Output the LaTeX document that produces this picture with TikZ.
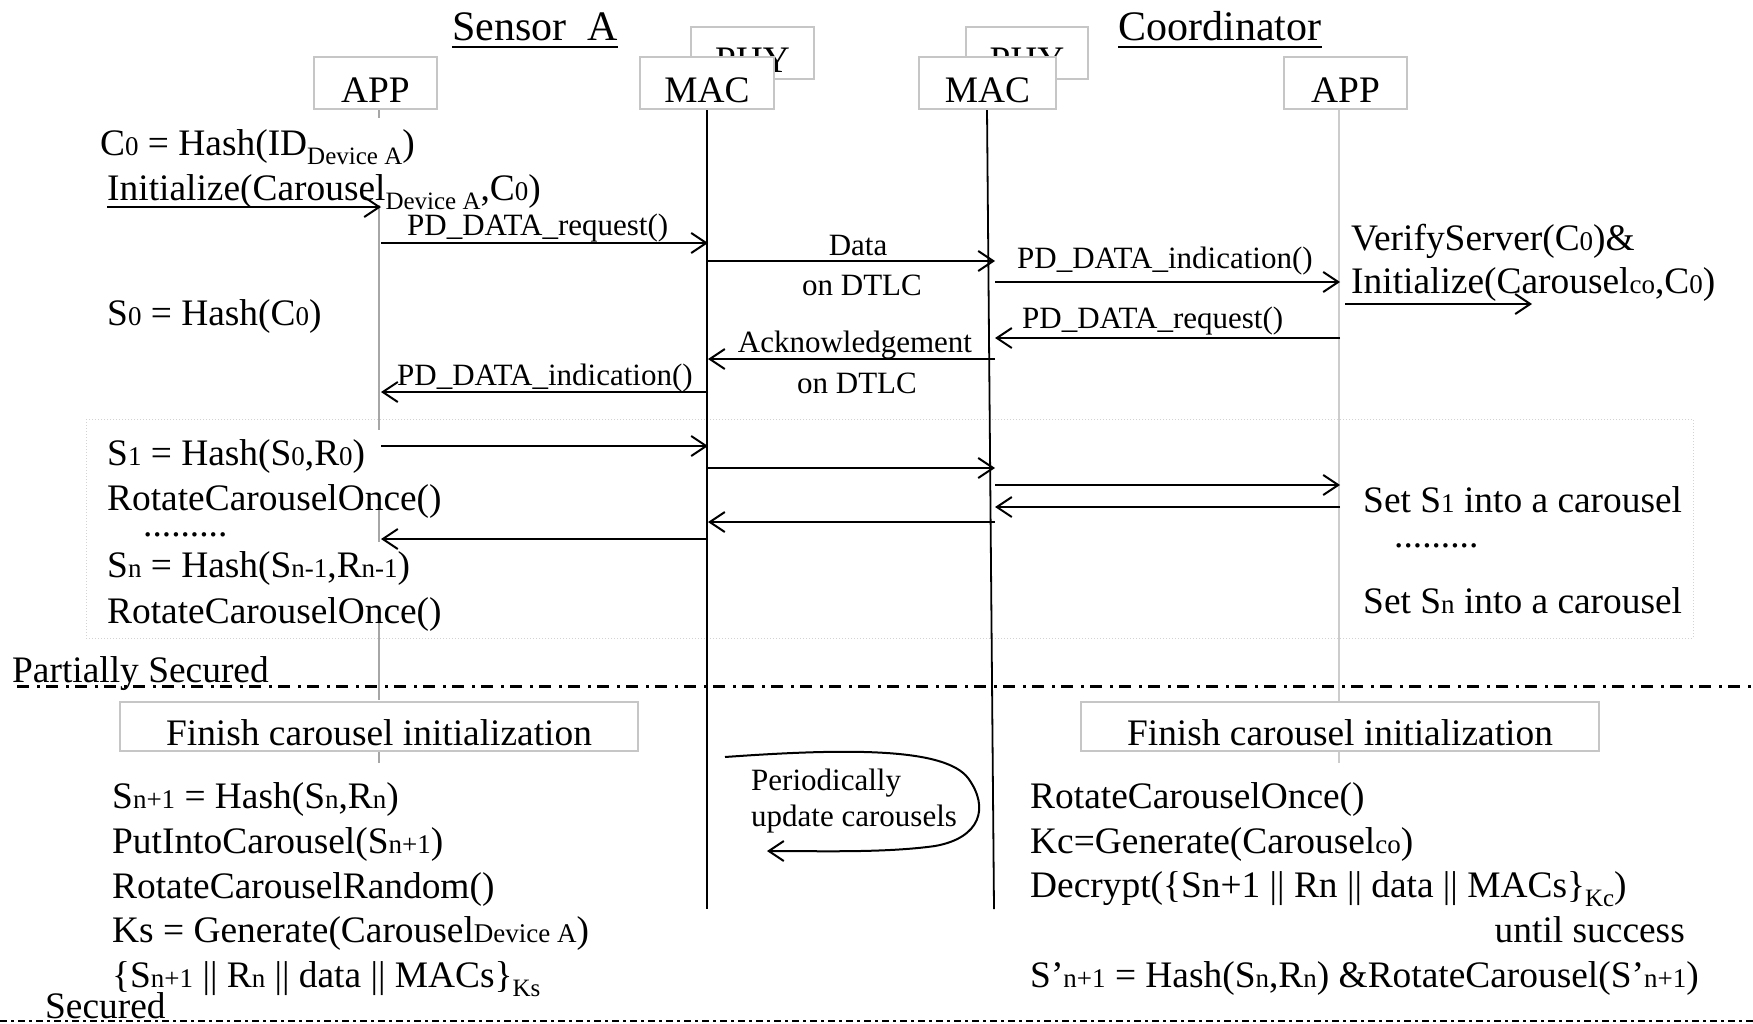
\documentclass[tikz,border=0pt]{standalone}
\usepackage{fontspec}
\setmainfont{Liberation Serif}
\usetikzlibrary{arrows.meta}
\newcommand\ftmain{\fontsize{37.4}{44}\selectfont}
\newcommand\ftlab{\fontsize{31}{37}\selectfont}
\newcommand\fthead{\fontsize{42}{50}\selectfont}
\newcommand\smsub[1]{{\fontsize{27}{32}\selectfont #1}}
\newcommand\lowsub[1]{\raisebox{-9pt}{\fontsize{25}{30}\selectfont #1}}
\tikzset{
  layer/.style={draw=gray!45, line width=1.2pt, fill=white, minimum height=52pt,
    inner sep=0pt, text height=38pt, text depth=0pt, font=\ftmain},
  finbox/.style={draw=gray!45, line width=1.2pt, fill=white, minimum height=49pt,
    minimum width=518pt, inner sep=0pt, text height=37pt, text depth=0pt, font=\ftmain},
  txt/.style={inner sep=0pt, anchor=base west, font=\ftmain},
  lab/.style={inner sep=0pt, anchor=base west, font=\ftlab},
  clab/.style={inner sep=0pt, anchor=base, font=\ftlab},
  head/.style={inner sep=0pt, anchor=base, font=\fthead},
  msg/.style={line width=2.2pt, -{Straight Barb[length=15pt,width=20pt,line width=2pt]}},
  macline/.style={line width=1.8pt},
  appline/.style={line width=1.1pt},
}
\begin{document}
\begin{tikzpicture}[x=1pt,y=-1pt]
\useasboundingbox (0,0) rectangle (1753,1023);

% headings
\node[head] (sensor) at (535,40) {Sensor\ \ A};
\node[head] (coord) at (1220,40) {Coordinator};
\draw[line width=2.5pt] ([yshift=-7pt]sensor.base west) -- ([yshift=-7pt]sensor.base east);
\draw[line width=2.5pt] ([yshift=-7pt]coord.base west) -- ([yshift=-7pt]coord.base east);

% dotted frame
\draw[gray!35, line width=1pt, dotted] (86,419) rectangle (1693,638);

% lifeline references
\coordinate (AL) at (381,0);
\coordinate (ML) at (708,0);
\coordinate (MR) at (995,0);
\coordinate (AR) at (1340,0);

% lifelines
\draw[appline, gray!70] (379,109) -- (379,118);
\draw[appline, gray!70] (379,205) -- (379,430);
\draw[appline, gray!70] (379,507) -- (379,542);
\draw[appline, gray!70] (379,623) -- (379,700);
\draw[appline, gray!70] (379,751) -- (379,763);
\draw[appline, gray!40] (1339,109) -- (1339,763);
\draw[macline] (707,109) -- (707,909);
\draw[macline] (987,109) -- (994,909);

% layer boxes
\node[layer, minimum width=123pt] (appL) at (375.5,83) {APP};
\node[layer, minimum width=123pt] (phyL) at (752.5,53) {PHY};
\node[layer, minimum width=134pt] (macL) at (707,83) {MAC};
\node[layer, minimum width=122pt] (phyR) at (1027,53) {PHY};
\node[layer, minimum width=137pt] (macR) at (987.5,83) {MAC};
\node[layer, minimum width=123pt] (appR) at (1345.5,83) {APP};

% left texts (phase 1)
\node[txt] (c0) at (100,155) {C\smsub{0} = Hash(ID\lowsub{Device A})};
\node[txt] (initL) at (107,200) {Initialize(Carousel\lowsub{Device A},C\smsub{0})};
\node[txt] (s0) at (107,325) {S\smsub{0} = Hash(C\smsub{0})};
\coordinate (initLs) at (107,207);
\draw[msg] (initLs) -- (AL |- 0,207);

% messages phase 1
\draw[msg] (AL |- 0,243) -- (ML |- 0,243);
\node[lab] (l1) at (407,235) {PD\_DATA\_request()};
\draw[msg] (ML |- 0,261) -- (MR |- 0,261);
\node[clab] (l2a) at (858,255) {Data};
\node[clab] (l2b) at (862,295) {on DTLC};
\draw[msg] (MR |- 0,282) -- (AR |- 0,282);
\node[lab] (l3) at (1017,268) {PD\_DATA\_indication()};
\node[txt] (verify) at (1351,250) {VerifyServer(C\smsub{0})\&};
\node[txt] (initR) at (1351,293) {Initialize(Carousel\smsub{co},C\smsub{0})};
\coordinate (initRs) at (1345,304);
\coordinate (initRe) at (1532,304);
\draw[msg] (initRs) -- (initRe);
\draw[msg] (AR |- 0,338) -- (MR |- 0,338);
\node[lab] (l4) at (1022,328) {PD\_DATA\_request()};
\draw[msg] (MR |- 0,359) -- (ML |- 0,359);
\node[clab] (l5a) at (855,352) {Acknowledgement};
\node[clab] (l5b) at (857,393) {on DTLC};
\draw[msg] (ML |- 0,392) -- (AL |- 0,392);
\node[lab] (l6) at (397,385) {PD\_DATA\_indication()};

% phase 2 (dotted frame)
\node[txt] (s1) at (107,465) {S\smsub{1} = Hash(S\smsub{0},R\smsub{0})};
\node[txt] (rot1) at (107,510) {RotateCarouselOnce()};
\node[txt] (dots1) at (143,536) {.........};
\node[txt] (sn) at (107,577) {S\smsub{n} = Hash(S\smsub{n-1},R\smsub{n-1})};
\node[txt] (rot2) at (107,623) {RotateCarouselOnce()};
\node[txt] (set1) at (1363,512) {Set S\smsub{1} into a carousel};
\node[txt] (dots2) at (1394,547) {.........};
\node[txt] (setn) at (1363,613) {Set S\smsub{n} into a carousel};
\draw[msg] (AL |- 0,446) -- (ML |- 0,446);
\draw[msg] (ML |- 0,468) -- (MR |- 0,468);
\draw[msg] (MR |- 0,485) -- (AR |- 0,485);
\draw[msg] (AR |- 0,507) -- (MR |- 0,507);
\draw[msg] (MR |- 0,522) -- (ML |- 0,522);
\draw[msg] (ML |- 0,539) -- (AL |- 0,539);

% partially secured separator
\draw[line width=3pt, dash pattern=on 12pt off 8pt on 3pt off 6pt] (17,686) -- (1753,686);
\node[txt] (psec) at (12,682) {Partially Secured};

% finish boxes
\node[finbox] (finL) at (379,726.5) {Finish carousel initialization};
\node[finbox] (finR) at (1340,726.5) {Finish carousel initialization};

% periodic update loop
\node[lab] (per1) at (751,790) {Periodically};
\node[lab] (per2) at (751,826) {update carousels};
\coordinate (loopS) at (725,757);
\coordinate (loopE) at (767,851);
\draw[line width=2pt, -{Straight Barb[length=15pt,width=20pt,line width=2pt]}]
  (loopS) .. controls (850,748) and (945,748) .. (968,778)
  .. controls (990,808) and (980,838) .. (935,846)
  .. controls (885,853) and (820,851) .. (loopE);

% phase 3 left
\node[txt] (b1) at (112,808) {S\smsub{n+1} = Hash(S\smsub{n},R\smsub{n})};
\node[txt] (b2) at (112,853) {PutIntoCarousel(S\smsub{n+1})};
\node[txt] (b3) at (112,898) {RotateCarouselRandom()};
\node[txt] (b4) at (112,942) {Ks = Generate(Carousel\smsub{Device A})};
\node[txt] (b5) at (112,987) {\{S\smsub{n+1} || R\smsub{n} || data || MACs\}\lowsub{Ks}};

% phase 3 right
\node[txt] (r1) at (1030,808) {RotateCarouselOnce()};
\node[txt] (r2) at (1030,853) {Kc=Generate(Carousel\smsub{co})};
\node[txt] (r3) at (1030,897) {Decrypt(\{Sn+1 || Rn || data || MACs\}\lowsub{Kc})};
\node[txt, anchor=base east] (r4) at (1685,942) {until success};
\node[txt] (r5) at (1030,987) {S’\smsub{n+1} = Hash(S\smsub{n},R\smsub{n}) \&RotateCarousel(S’\smsub{n+1})};

% secured separator
\draw[line width=1.5pt, dash pattern=on 7pt off 4pt on 3pt off 4pt] (0,1021) -- (1753,1021);
\node[txt] (sec) at (45,1018) {Secured};
\end{tikzpicture}
\end{document}
